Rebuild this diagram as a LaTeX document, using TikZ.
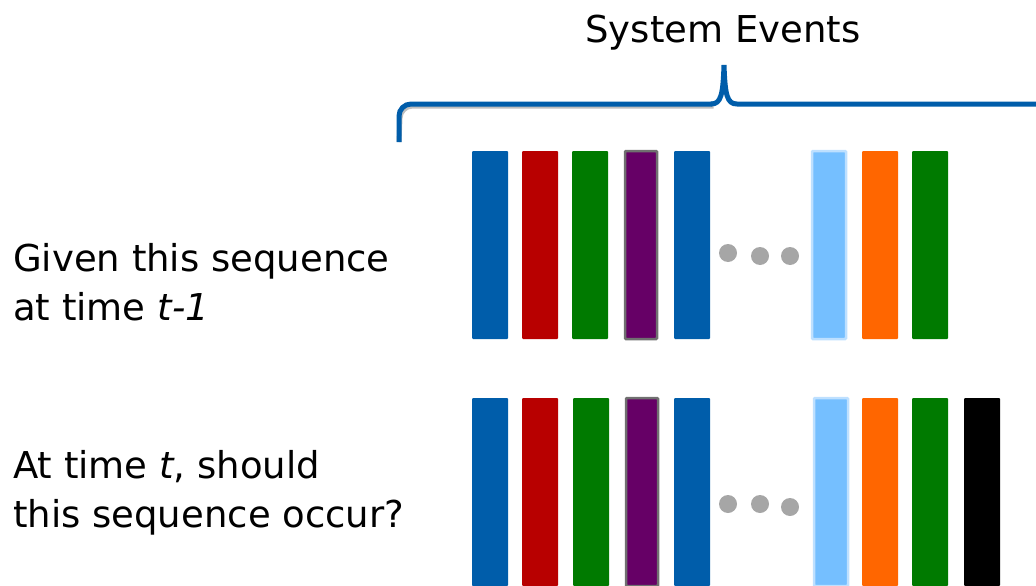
\documentclass[tikz,border=0pt]{standalone}
\usepackage{fontspec}
\setmainfont{DejaVu Sans}
\usepackage{tikz}

\definecolor{evblue}{RGB}{0,93,170}
\definecolor{evred}{RGB}{184,0,0}
\definecolor{evgreen}{RGB}{0,122,0}
\definecolor{evpurple}{RGB}{102,0,102}
\definecolor{evgray}{RGB}{112,112,112}
\definecolor{evlight}{RGB}{117,191,255}
\definecolor{evlightedge}{RGB}{190,224,255}
\definecolor{evorange}{RGB}{255,102,0}
\definecolor{dotgray}{RGB}{166,166,166}

\tikzset{
  bar/.style={rectangle, inner sep=0pt, minimum width=36pt, minimum height=188pt, rounded corners=1pt},
  bluebar/.style={bar, fill=evblue},
  redbar/.style={bar, fill=evred},
  greenbar/.style={bar, fill=evgreen},
  orangebar/.style={bar, fill=evorange},
  blackbar/.style={bar, fill=black},
  purplebar/.style={bar, fill=evpurple, draw=evgray, line width=2.5pt, minimum width=32pt},
  lightbar/.style={bar, fill=evlight, draw=evlightedge, line width=2.5pt, minimum width=34pt},
  dot/.style={circle, fill=dotgray, inner sep=0pt, minimum size=18pt},
  lbl/.style={anchor=base west, align=left, inner sep=0pt, font=\fontsize{37}{49}\selectfont}
}

\begin{document}
\begin{tikzpicture}[x=1pt, y=-1pt]
  \clip (0,0) rectangle (1036,586);

  % sequence at time t-1
  \foreach \x/\s [count=\i] in {490/bluebar, 540/redbar, 590/greenbar, 641/purplebar,
      692/bluebar, 829/lightbar, 880/orangebar, 930/greenbar}
    \node[\s] (top\i) at (\x, 245) {};
  \foreach \x/\y [count=\i] in {728/253, 760/256, 790/256}
    \node[dot] (tdot\i) at (\x, \y) {};

  % sequence at time t
  \foreach \x/\s [count=\i] in {490/bluebar, 540/redbar, 591/greenbar, 642/purplebar,
      692/bluebar, 831/lightbar, 880/orangebar, 930/greenbar, 982/blackbar}
    \node[\s] (bot\i) at (\x, 492) {};
  \foreach \x/\y [count=\i] in {728/504, 760/504, 790/507}
    \node[dot] (bdot\i) at (\x, \y) {};

  % brace over the events
  \coordinate (bl) at (399, 142);
  \coordinate (tip) at (724, 65);
  \coordinate (br) at (1045, 104);
  \draw[black!25, line width=5pt, rounded corners=12pt, xshift=1.5pt, yshift=-2pt]
    (bl) -- (399, 104) -- (712, 104);
  \draw[evblue, line width=5pt, rounded corners=12pt]
    (bl) -- (399, 104) -- (712, 104);
  \draw[evblue, line width=5pt]
    (711, 104) .. controls (721, 104) and (723, 95) .. (tip)
    .. controls (725, 95) and (727, 104) .. (737, 104) -- (br);

  \node[anchor=base, inner sep=0pt, font=\fontsize{37}{49}\selectfont] (title) at (723, 43) {System Events};

  \node[lbl] (given) at (13, 320) {Given this sequence\\at time \textit{t-1}};
  \node[lbl] (occur) at (13, 527) {At time \textit{t}, should\\this sequence occur?};

\end{tikzpicture}
\end{document}
